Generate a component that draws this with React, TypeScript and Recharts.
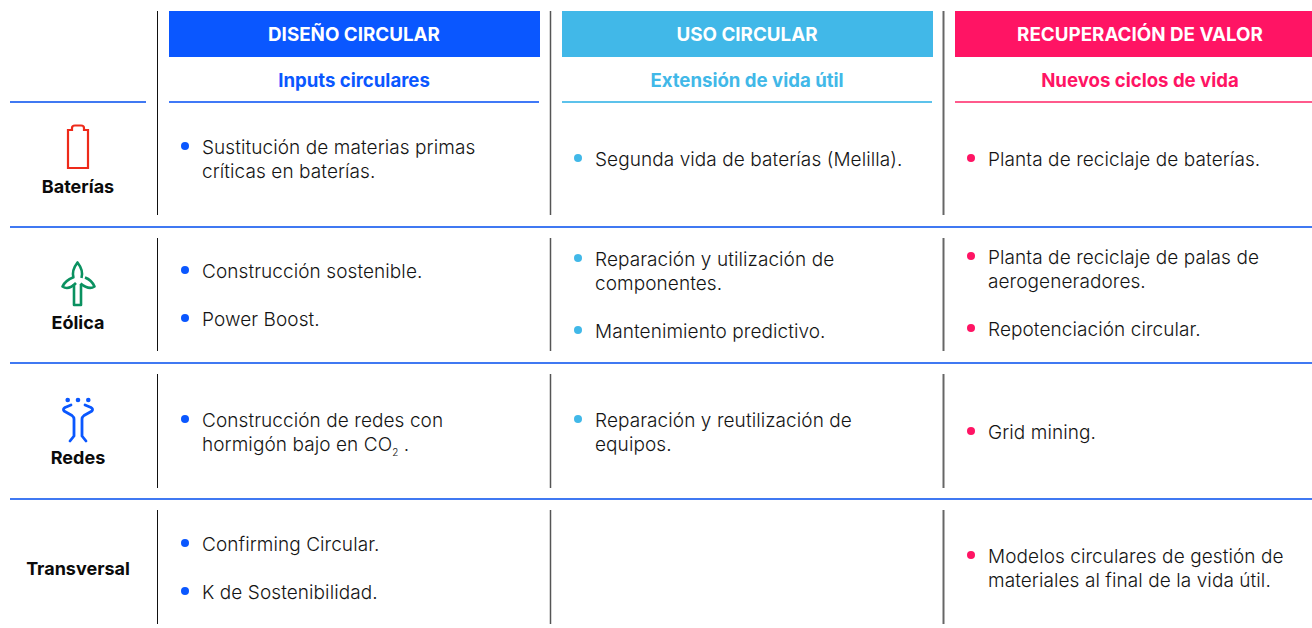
import {
  ScatterChart,
  Scatter,
  XAxis,
  YAxis,
  ReferenceArea,
  ReferenceLine,
} from "recharts";

const WIDTH = 1312;
const HEIGHT = 628;
const FONT = "Inter, sans-serif";

const stages = ["DISEÑO CIRCULAR", "USO CIRCULAR", "RECUPERACIÓN DE VALOR"];
const stageSubtitles = ["Inputs circulares", "Extensión de vida útil", "Nuevos ciclos de vida"];
const sectors = ["Baterías", "Eólica", "Redes", "Transversal"];

// one list per stage, one entry per sector, each entry = bullets, each bullet = lines
const disenoItems = [
  [["Sustitución de materias primas", "críticas en baterías."]],
  [["Construcción sostenible."], ["Power Boost."]],
  [["Construcción de redes con", "hormigón bajo en CO₂ ."]],
  [["Confirming Circular."], ["K de Sostenibilidad."]],
];
const usoItems = [
  [["Segunda vida de baterías (Melilla)."]],
  [["Reparación y utilización de", "componentes."], ["Mantenimiento predictivo."]],
  [["Reparación y reutilización de", "equipos."]],
  [],
];
const recuperacionItems = [
  [["Planta de reciclaje de baterías."]],
  [["Planta de reciclaje de palas de", "aerogeneradores."], ["Repotenciación circular."]],
  [["Grid mining."]],
  [["Modelos circulares de gestión de", "materiales al final de la vida útil."]],
];
const stageItems = [disenoItems, usoItems, recuperacionItems];

const colors = ["#0a57ff", "#41b8e8", "#ff1464"];
const ruleColors = ["#4079f7", "#5cc2eb", "#ff5a8c"];
const BLUE_RULE = "#4079f2";
const TEXT = "#141414";

// layout
const colLeft = [169, 562, 955];
const colRight = [540, 933, 1312];
const colCenter = [354, 747, 1140];
const dividerX = [157.5, 550.5, 943.5];
const dividerColor = ["#111111", "#555555", "#666666"];
const dividerWidth = [1, 1.5, 2];
const dividerSpans = [[11, 215], [238, 351], [374, 488], [510, 624]];
const rowRules = [227, 363, 499];
const rowCenter = [160, 296, 433, 569];
const labelY = [187, 323, 458, 569];
const iconY = [147, 284, 421];
const LINE = 24;

type Bullet = { x: number; y: number; lines: string[] };

function placeBullets(col: number): Bullet[] {
  const out: Bullet[] = [];
  stageItems[col].forEach((bullets, row) => {
    const count = bullets.reduce((n, b) => n + b.length, 0) + bullets.length - 1;
    // the last column's second row sits 2px higher in the source
    const nudge = col === 2 && row === 1 ? -2 : 0;
    let y = rowCenter[row] + nudge - ((count - 1) * LINE) / 2;
    bullets.forEach((lines) => {
      out.push({ x: colLeft[col] + 16, y, lines });
      y += (lines.length + 1) * LINE;
    });
  });
  return out;
}

const renderLine = (line: string, x: number, y: number, key: number) => {
  const parts = line.split("₂");
  return (
    <text
      key={key}
      x={x}
      y={y}
      dy={6}
      fontFamily={FONT}
      fontSize={19}
      fontWeight={300}
      letterSpacing={0.08}
      fill={TEXT}
    >
      {parts[0]}
      {parts.length > 1 && (
        <>
          <tspan fontSize={10} dy={5}>2</tspan>
          <tspan dy={-5}>{parts[1]}</tspan>
        </>
      )}
    </text>
  );
};

const bulletShape = (color: string) => (props: any) => {
  const { cx, cy, payload } = props;
  return (
    <g>
      <circle cx={cx} cy={cy - 2} r={4} fill={color} />
      {payload.lines.map((line: string, i: number) => renderLine(line, cx + 17, cy + i * LINE, i))}
    </g>
  );
};

const BatteryIcon = () => (
  <path
    d="M-10,-17 L-6,-17 L-6,-19 Q-6,-21.5 -3,-21.5 L3,-21.5 Q6,-21.5 6,-19 L6,-17 L10,-17 L10,21 L-10,21 Z"
    fill="none"
    stroke="#ee2a1a"
    strokeWidth={2.2}
  />
);

const TurbineIcon = () => (
  <g fill="none" stroke="#0a9160" strokeWidth={2.6} strokeLinejoin="round">
    <path d="M-4,0 L-4,21 L3,21 L3,0" />
    <path d="M-4.5,-6 C-6,-11 -4,-17 -0.5,-21.5 C3,-17 5,-11 3.5,-6" />
    <path d="M7,-6.5 C11,-5 15,-1 16.5,2.5 C13,5 8,4 2.5,-0.5" />
    <path d="M-4,-7 C-9,-5 -14,-1 -15.5,2.5 C-12,5 -7,4 -2,-1" />
  </g>
);

const GridIcon = () => (
  <g fill="none" stroke="#0a57ff" strokeWidth={2.8} strokeLinecap="round" strokeLinejoin="round">
    <circle cx={-10.3} cy={-21} r={2.3} fill="#0a57ff" stroke="none" />
    <circle cx={0} cy={-21} r={2.3} fill="#0a57ff" stroke="none" />
    <circle cx={10.3} cy={-21} r={2.3} fill="#0a57ff" stroke="none" />
    <path d="M-7,-16 L-13,-13.5 Q-15.5,-12 -14,-10 L-6,-5.5 Q-4,-4 -4,-2 L-4,15 L-8,20" />
    <path d="M7,-16 L13,-13.5 Q15.5,-12 14,-10 L6,-5.5 Q4,-4 4,-2 L4,15 L8,20" />
  </g>
);

const icons = [BatteryIcon, TurbineIcon, GridIcon];

const iconPoints = iconY.map((y, row) => ({ x: 78, y, row }));
const sectorPoints = sectors.map((name, row) => ({ x: 78, y: labelY[row], name }));

const iconShape = (props: any) => {
  const Icon = icons[props.payload.row];
  return (
    <g transform={`translate(${props.cx},${props.cy})`}>
      <Icon />
    </g>
  );
};

const sectorShape = (props: any) => (
  <text
    x={props.cx}
    y={props.cy}
    dy={6}
    textAnchor="middle"
    fontFamily={FONT}
    fontSize={18}
    fontWeight={700}
    fill="#0b0b0b"
  >
    {props.payload.name}
  </text>
);

const headerPoints = stages.map((name, col) => ({ x: colCenter[col], y: 35, name }));

const headerShape = (props: any) => (
  <text
    x={props.cx}
    y={props.cy}
    dy={6}
    textAnchor="middle"
    fontFamily={FONT}
    fontSize={18.8}
    fontWeight={700}
    fill="#ffffff"
  >
    {props.payload.name}
  </text>
);

const subtitlePoints = stageSubtitles.map((name, col) => ({ x: colCenter[col], y: 81, name, col }));

const subtitleShape = (props: any) => (
  <text
    x={props.cx}
    y={props.cy}
    dy={6}
    textAnchor="middle"
    fontFamily={FONT}
    fontSize={18.6}
    fontWeight={700}
    fill={colors[props.payload.col]}
  >
    {props.payload.name}
  </text>
);

export default function App() {
  return (
    <div style={{ position: "absolute", left: 0, top: 0, width: WIDTH, height: HEIGHT, background: "#fff" }}>
      <ScatterChart width={WIDTH} height={HEIGHT} margin={{ top: 0, right: 0, bottom: 0, left: 0 }}>
        <XAxis type="number" dataKey="x" domain={[0, WIDTH]} hide />
        <YAxis type="number" dataKey="y" domain={[0, HEIGHT]} reversed hide />

        {stages.map((s, i) => (
          <ReferenceArea
            key={s}
            x1={colLeft[i]}
            x2={colRight[i]}
            y1={11}
            y2={57}
            fill={colors[i]}
            fillOpacity={1}
            stroke="none"
          />
        ))}

        <ReferenceLine
          segment={[{ x: 10, y: 102 }, { x: 146, y: 102 }]}
          stroke={BLUE_RULE}
          strokeWidth={2}
        />
        {stages.map((s, i) => (
          <ReferenceLine
            key={s}
            segment={[{ x: colLeft[i], y: 102 }, { x: i === 2 ? WIDTH : colRight[i] - 1, y: 102 }]}
            stroke={ruleColors[i]}
            strokeWidth={2}
          />
        ))}
        {rowRules.map((y) => (
          <ReferenceLine
            key={y}
            segment={[{ x: 10, y }, { x: WIDTH, y }]}
            stroke={BLUE_RULE}
            strokeWidth={2}
          />
        ))}
        {dividerX.map((x, i) =>
          dividerSpans.map(([y1, y2]) => (
            <ReferenceLine
              key={`${x}-${y1}`}
              segment={[{ x, y: y1 }, { x, y: y2 }]}
              stroke={dividerColor[i]}
              strokeWidth={dividerWidth[i]}
            />
          ))
        )}

        <Scatter data={headerPoints} shape={headerShape} isAnimationActive={false} />
        <Scatter data={subtitlePoints} shape={subtitleShape} isAnimationActive={false} />
        <Scatter data={iconPoints} shape={iconShape} isAnimationActive={false} />
        <Scatter data={sectorPoints} shape={sectorShape} isAnimationActive={false} />
        {stages.map((s, i) => (
          <Scatter key={s} data={placeBullets(i)} shape={bulletShape(colors[i])} isAnimationActive={false} />
        ))}
      </ScatterChart>
    </div>
  );
}
